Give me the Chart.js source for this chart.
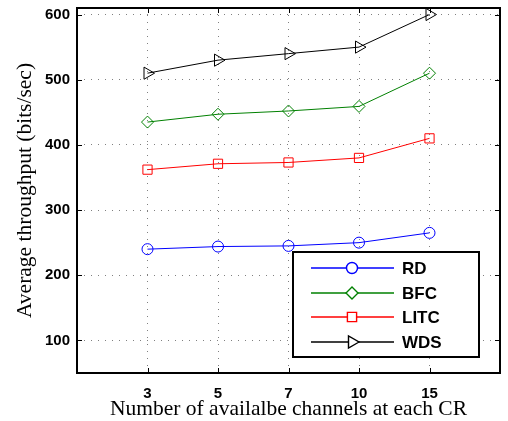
<!DOCTYPE html>
<html>
<head>
<meta charset="utf-8">
<script src="https://cdn.jsdelivr.net/npm/chart.js@4/dist/chart.umd.min.js"></script>
<style>
  html, body { margin: 0; padding: 0; background: #ffffff; }
  #wrap { width: 508px; height: 421px; }
</style>
</head>
<body>
<div id="wrap"><canvas id="c" width="508" height="421"></canvas></div>
<script>
// Number of available channels at each CR (categorical, evenly spaced)
const channels = ['3', '5', '7', '10', '15'];

// Average throughput (bits/sec) per scheme
const rd   = [240, 244, 245, 250, 265];
const bfc  = [435, 447, 452, 459, 510];
const litc = [362, 371, 373, 380, 410];
const wds  = [510, 530, 540, 550, 600];

// Y axis tick labels
const yTicks = [100, 200, 300, 400, 500, 600];

const sans = '"Liberation Sans", Arial, sans-serif';
const serif = '"Liberation Serif", "Times New Roman", serif';

// place each category at an evenly spaced position 3,4,5,...
const pos = i => i + 3;
const toPoints = arr => arr.map((v, i) => ({ x: pos(i), y: v }));

function series(label, values, color, style, radius, rotation) {
  return {
    label: label,
    data: toPoints(values),
    borderColor: color,
    backgroundColor: color,
    borderWidth: 1,
    pointStyle: style,
    pointRadius: radius,
    pointHoverRadius: radius,
    pointRotation: rotation || 0,
    pointBorderColor: color,
    pointBackgroundColor: 'rgba(0,0,0,0)',
    pointBorderWidth: 1,
    tension: 0,
    fill: false
  };
}

// Frame around the plot with small inward ticks
const framePlugin = {
  id: 'frame',
  afterDatasetsDraw(chart) {
    const { ctx, chartArea: a, scales } = chart;
    ctx.save();
    ctx.strokeStyle = '#000';
    ctx.lineWidth = 1;
    const tl = 5;
    ctx.beginPath();
    scales.x.ticks.forEach(t => {
      const x = Math.round(scales.x.getPixelForValue(t.value)) + 0.5;
      ctx.moveTo(x, a.bottom); ctx.lineTo(x, a.bottom - tl);
      ctx.moveTo(x, a.top); ctx.lineTo(x, a.top + tl);
    });
    scales.y.ticks.forEach(t => {
      const y = Math.round(scales.y.getPixelForValue(t.value)) + 0.5;
      ctx.moveTo(a.left, y); ctx.lineTo(a.left + tl, y);
      ctx.moveTo(a.right, y); ctx.lineTo(a.right - tl, y);
    });
    ctx.stroke();
    ctx.lineWidth = 2;
    ctx.strokeRect(a.left, a.top, a.right - a.left, a.bottom - a.top);
    ctx.restore();
  }
};

// Boxed legend inside the plot, each entry drawn as line + marker + label
const boxLegend = {
  id: 'boxLegend',
  afterDraw(chart) {
    const { ctx } = chart;
    const bx = 293, by = 252, bw = 186, bh = 105;
    ctx.save();
    ctx.fillStyle = '#fff';
    ctx.fillRect(bx, by, bw, bh);
    ctx.strokeStyle = '#000';
    ctx.lineWidth = 2;
    ctx.strokeRect(bx, by, bw, bh);
    const rowY = [268, 293, 317, 342];
    chart.data.datasets.forEach((ds, i) => {
      const y = rowY[i];
      ctx.strokeStyle = ds.borderColor;
      ctx.lineWidth = 1.4;
      ctx.beginPath();
      ctx.moveTo(311, y); ctx.lineTo(394, y);
      ctx.stroke();
      ctx.fillStyle = '#fff';
      Chart.helpers.drawPoint(ctx, {
        pointStyle: ds.pointStyle,
        radius: ds.pointRadius,
        rotation: ds.pointRotation,
        borderWidth: 1.4
      }, 352, y);
      ctx.fillStyle = '#000';
      ctx.font = 'bold 17px ' + sans;
      ctx.textBaseline = 'middle';
      ctx.textAlign = 'left';
      ctx.fillText(ds.label, 402, y + 1);
    });
    ctx.restore();
  }
};

new Chart(document.getElementById('c'), {
  type: 'line',
  data: {
    datasets: [
      series('RD',   rd,   '#0000ff', 'circle', 5.5),
      series('BFC',  bfc,  '#008000', 'rectRot', 6),
      series('LITC', litc, '#ff0000', 'rect', 6.5),
      series('WDS',  wds,  '#000000', 'triangle', 7, 90)
    ]
  },
  options: {
    responsive: false,
    animation: false,
    layout: { padding: { top: 7, right: 1, left: 0, bottom: 0 } },
    plugins: { legend: { display: false }, tooltip: { enabled: false } },
    scales: {
      x: {
        type: 'linear',
        min: 2, max: 8,
        afterBuildTicks: s => { s.ticks = channels.map((c, i) => ({ value: pos(i) })); },
        afterFit: s => { s.height = 48; s.paddingLeft = 0; s.paddingRight = 0; },
        ticks: {
          callback: (v) => channels[v - 3],
          font: { family: sans, size: 15, weight: 'bold' },
          color: '#000',
          padding: 12,
          maxRotation: 0
        },
        grid: { color: '#808080', lineWidth: 1, drawTicks: false },
        border: { display: false, dash: [1, 6] },
        title: {
          display: true,
          text: 'Number of availalbe channels at each CR',
          font: { family: serif, size: 21.5 },
          color: '#000',
          padding: { top: 0, bottom: -1 }
        }
      },
      y: {
        type: 'linear',
        min: 50, max: 610,
        afterBuildTicks: s => { s.ticks = yTicks.map(v => ({ value: v })); },
        afterFit: s => { s.width = 77; s.paddingTop = 0; s.paddingBottom = 0; },
        ticks: {
          font: { family: sans, size: 15, weight: 'bold' },
          color: '#000',
          padding: 7
        },
        grid: { color: '#808080', lineWidth: 1, drawTicks: false },
        border: { display: false, dash: [1, 6] },
        title: {
          display: true,
          text: 'Average throughput (bits/sec)',
          font: { family: serif, size: 21.5 },
          color: '#000',
          padding: { top: 12, bottom: 0 }
        }
      }
    }
  },
  plugins: [framePlugin, boxLegend]
});
</script>
</body>
</html>
